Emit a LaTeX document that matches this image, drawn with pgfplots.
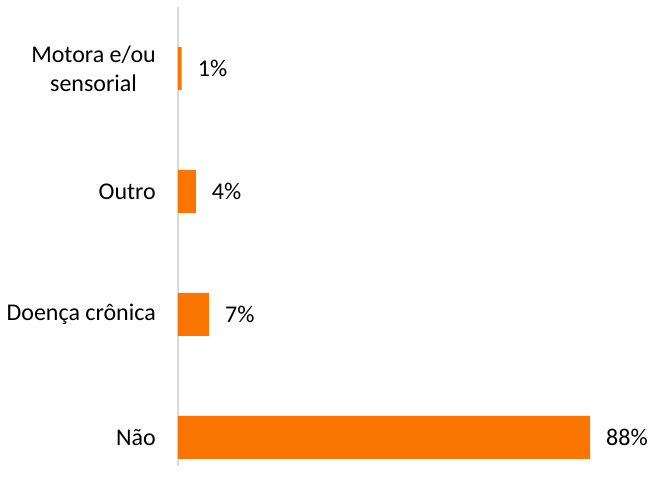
\documentclass[border=0pt]{standalone}
\usepackage{pgfplots}
\pgfplotsset{compat=1.18}
\usepackage{fontspec}
\setmainfont{Carlito}
\definecolor{barorange}{RGB}{250,118,0}
\definecolor{axgray}{RGB}{217,217,217}
\begin{document}
\fontsize{24pt}{29pt}\selectfont
\begin{tikzpicture}
\useasboundingbox (0,0) rectangle (649pt,496pt);
\begin{axis}[
  at={(178pt,30pt)}, anchor=south west,
  scale only axis,
  width=468.2pt, height=459pt,
  xbar, bar width=43pt,
  xmin=0, xmax=100,
  ymin=-0.232, ymax=3.5,
  axis x line=none,
  axis y line=left,
  y axis line style={-, draw=axgray, line width=1.5pt},
  ytick={0,1,2,3},
  yticklabels={Não, Doença crônica, Outro, {Motora e/ou\\sensorial}},
  ytick style={draw=none},
  major tick length=0pt,
  yticklabel style={align=center, inner sep=0pt, xshift=-22pt, font=\fontsize{24pt}{29pt}\selectfont},
  point meta=explicit symbolic,
  nodes near coords={\pgfplotspointmeta\%},
  nodes near coords style={anchor=west, inner sep=0pt, xshift=16pt, font=\fontsize{24pt}{29pt}\selectfont, text=black},
]
\addplot[fill=barorange, draw=none] coordinates {(88,0) [88] (6.6,1) [7] (3.8,2) [4] (0.8,3) [1]};
\end{axis}
\end{tikzpicture}
\end{document}
